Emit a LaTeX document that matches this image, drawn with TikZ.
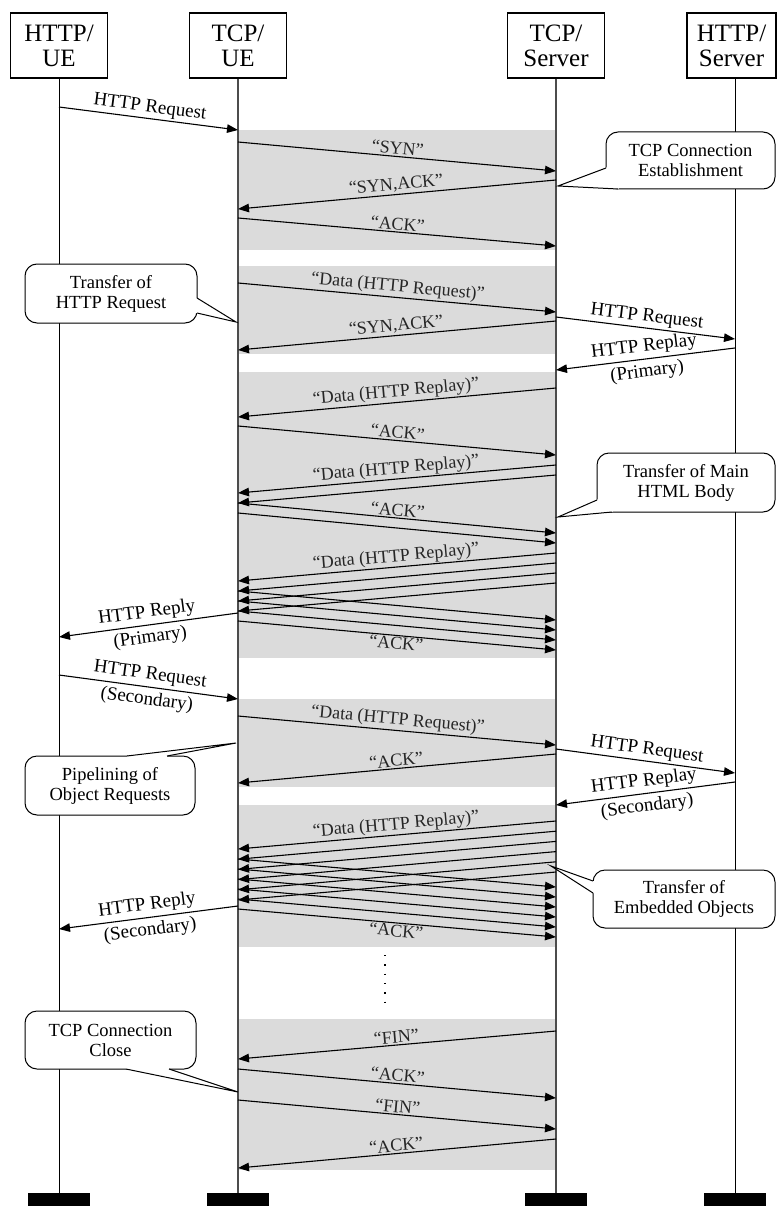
\documentclass[tikz,border=0pt]{standalone}
\usepackage{fontspec}
\setmainfont{Liberation Serif}
\usetikzlibrary{arrows.meta,calc}
\newcommand\msgarrow[5]{\draw[msg] ($(#1)+(0,#2)$) -- #5 ($(#3)+(0,#4)$);}
\newcommand\calltail[4]{%
  \fill[white] (#1) -- (#2) -- (#3) -- ($(#3)+#4$) -- ($(#1)+#4$) -- cycle;
  \draw[line width=1pt, line join=miter] (#1) -- (#2) -- (#3);}
\begin{document}
\begin{tikzpicture}[x=1pt,y=-1pt,
  hdr/.style={draw, line width=1.2pt, minimum width=97pt, minimum height=65pt, inner sep=0pt, align=center, font=\fontsize{25}{25}\selectfont, fill=white},
  lifeA/.style={line width=0.9pt},
  lifeB/.style={line width=1.2pt, draw=black!70},
  msg/.style={line width=1.1pt, -{Triangle[length=11pt,width=8.5pt]}},
  lab/.style={sloped, font=\fontsize{18}{20}\selectfont, inner sep=1.5pt, text=black!85},
  hlab/.style={sloped, font=\fontsize{19}{21}\selectfont, inner sep=1pt},
  callout/.style={draw, fill=white, rounded corners=12pt, line width=1pt, align=center, font=\fontsize{18.5}{20}\selectfont, inner sep=0pt},
  bar/.style={fill=black, minimum width=62pt, minimum height=13pt, inner sep=0pt},
  zone/.style={fill=black!14}
]
\path[use as bounding box] (0,0) rectangle (777,1206);
\coordinate (L1) at (59,0);
\coordinate (L2) at (238,0);
\coordinate (L3) at (556,0);
\coordinate (L4) at (735,0);
% shaded zones
\foreach \a/\b in {130/250,266/354,372/658,699/787,805/947,1019/1170}
  \fill[zone] ($(L2)+(0,\a)$) rectangle ($(L3)+(0,\b)$);
% header boxes and bars
\node[hdr] (ue) at (59,45.5) {HTTP/\\UE};
\node[hdr] (tue) at (238,45.5) {TCP/\\UE};
\node[hdr] (tsv) at (556,45.5) {TCP/\\Server};
\node[hdr, minimum width=89pt] (hsv) at (731.5,45.5) {HTTP/\\Server};
\node[bar] (b1) at (59,1199.5) {};
\node[bar] (b2) at (238,1199.5) {};
\node[bar] (b3) at (556,1199.5) {};
\node[bar] (b4) at (735,1199.5) {};
% lifelines
\draw[lifeA] (L1 |- ue.south) -- (L1 |- b1.north);
\draw[lifeB] (L2 |- tue.south) -- (L2 |- b2.north);
\draw[lifeB] (L3 |- tsv.south) -- (L3 |- b3.north);
\draw[lifeA] (L4 |- hsv.south) -- (L4 |- b4.north);
% connection establishment
\msgarrow{L1}{107}{L2}{130}{node[hlab,above=1pt]{HTTP Request}}
\msgarrow{L2}{142}{L3}{171}{node[lab,above]{“SYN”}}
\msgarrow{L3}{180}{L2}{209}{node[lab,above]{“SYN,ACK”}}
\msgarrow{L2}{218}{L3}{246}{node[lab,above]{“ACK”}}
% request transfer
\msgarrow{L2}{283}{L3}{312}{node[lab,above]{“Data (HTTP Request)”}}
\msgarrow{L3}{321}{L2}{350}{node[lab,above]{“SYN,ACK”}}
\msgarrow{L3}{317}{L4}{339}{node[hlab,above=1pt]{HTTP Request}}
\msgarrow{L4}{348}{L3}{370}{node[hlab,above=2pt]{HTTP Replay} node[hlab,below=3pt]{(Primary)}}
% main body
\msgarrow{L3}{388}{L2}{417}{node[lab,above]{“Data (HTTP Replay)”}}
\msgarrow{L2}{426}{L3}{455}{node[lab,above]{“ACK”}}
\foreach \i in {0,1} {\msgarrow{L3}{465+10*\i}{L2}{493+10*\i}{}}
\path ($(L3)+(0,465)$) -- node[lab,above]{“Data (HTTP Replay)”} ($(L2)+(0,493)$);
\foreach \i in {0,1} {\msgarrow{L2}{503+10*\i}{L3}{533+10*\i}{}}
\path ($(L2)+(0,503)$) -- node[lab,above]{“ACK”} ($(L3)+(0,533)$);
\foreach \i in {0,...,3} {\msgarrow{L3}{553+10*\i}{L2}{581+10*\i}{}}
\path ($(L3)+(0,553)$) -- node[lab,above]{“Data (HTTP Replay)”} ($(L2)+(0,581)$);
\foreach \i in {0,...,3} {\msgarrow{L2}{591+10*\i}{L3}{620+10*\i}{}}
\path ($(L2)+(0,621)$) -- node[lab,below]{“ACK”} ($(L3)+(0,650)$);
\msgarrow{L2}{613}{L1}{637}{node[hlab,above=2pt]{HTTP Reply} node[hlab,below=3pt]{(Primary)}}
% secondary request
\msgarrow{L1}{675}{L2}{699}{node[hlab,above=2pt]{HTTP Request} node[hlab,below=3pt]{(Secondary)}}
\msgarrow{L2}{716}{L3}{745}{node[lab,above]{“Data (HTTP Request)”}}
\msgarrow{L3}{754}{L2}{783}{node[lab,above]{“ACK”}}
\msgarrow{L3}{749}{L4}{773}{node[hlab,above=1pt]{HTTP Request}}
\msgarrow{L4}{782}{L3}{805}{node[hlab,above=2pt]{HTTP Replay} node[hlab,below=3pt]{(Secondary)}}
% embedded objects
\foreach \i in {0,...,5} {\msgarrow{L3}{821+10.2*\i}{L2}{849+10.2*\i}{}}
\path ($(L3)+(0,821)$) -- node[lab,above]{“Data (HTTP Replay)”} ($(L2)+(0,849)$);
\foreach \i in {0,...,5} {\msgarrow{L2}{859+10*\i}{L3}{887+10*\i}{}}
\path ($(L2)+(0,909)$) -- node[lab,below]{“ACK”} ($(L3)+(0,937)$);
\msgarrow{L2}{906}{L1}{929}{node[hlab,above=2pt]{HTTP Reply} node[hlab,below=3pt]{(Secondary)}}
% dots
\draw[line width=1.3pt, dash pattern=on 1.3pt off 8pt] (385,955) -- (385,1003);
% close
\msgarrow{L3}{1031}{L2}{1059}{node[lab,above]{“FIN”}}
\msgarrow{L2}{1069}{L3}{1098}{node[lab,above]{“ACK”}}
\msgarrow{L2}{1100}{L3}{1129}{node[lab,above]{“FIN”}}
\msgarrow{L3}{1139}{L2}{1168}{node[lab,above]{“ACK”}}
% callouts
\node[callout, minimum width=169pt, minimum height=57pt] (c1) at (690.5,160.5) {TCP Connection\\Establishment};
\coordinate (c1a) at (606,168); \coordinate (c1t) at (558,186); \coordinate (c1b) at (618,189);
\calltail{c1a}{c1t}{c1b}{(3,-3)}
\node[callout, minimum width=172pt, minimum height=59pt] (c2) at (111,293.5) {Transfer of\\HTTP Request};
\coordinate (c2a) at (197,298); \coordinate (c2t) at (236,322); \coordinate (c2b) at (197,313);
\calltail{c2a}{c2t}{c2b}{(-3,0)}
\node[callout, minimum width=178pt, minimum height=59pt] (c3) at (686,482.5) {Transfer of Main\\HTML Body};
\coordinate (c3a) at (597,500); \coordinate (c3t) at (558,517); \coordinate (c3b) at (612,512);
\calltail{c3a}{c3t}{c3b}{(3,-3)}
\node[callout, minimum width=170pt, minimum height=59pt] (c4) at (110,785.5) {Pipelining of\\Object Requests};
\coordinate (c4a) at (127,756); \coordinate (c4t) at (236,743); \coordinate (c4b) at (167,756);
\calltail{c4a}{c4t}{c4b}{(0,3)}
\node[callout, minimum width=182pt, minimum height=58pt] (c5) at (684,899) {Transfer of\\Embedded Objects};
\coordinate (c5a) at (593,881); \coordinate (c5t) at (551,866); \coordinate (c5b) at (593,893);
\calltail{c5a}{c5t}{c5b}{(3,0)}
\node[callout, minimum width=171pt, minimum height=58pt] (c6) at (110.5,1040) {TCP Connection\\Close};
\coordinate (c6a) at (126,1069); \coordinate (c6t) at (238,1092); \coordinate (c6b) at (169,1069);
\calltail{c6a}{c6t}{c6b}{(0,-3)}
\end{tikzpicture}
\end{document}
